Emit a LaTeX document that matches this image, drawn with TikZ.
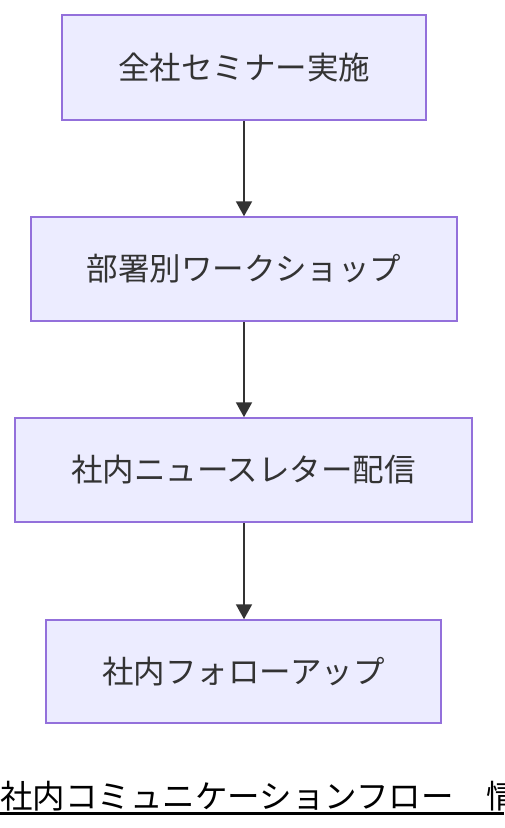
\documentclass[tikz,border=0pt]{standalone}
\usepackage{fontspec}
\setmainfont{Noto Sans CJK JP}
\usetikzlibrary{arrows.meta}
\definecolor{boxfill}{HTML}{ECECFF}
\definecolor{boxline}{HTML}{9370DB}
\definecolor{txt}{HTML}{333333}
\tikzset{
  stepbox/.style={draw=boxline, fill=boxfill, line width=1.5pt, inner sep=0pt, text=txt,
    font=\fontsize{31.5}{36}\selectfont},
  flow/.style={draw=txt, line width=2pt, -{Triangle[length=15pt,width=16pt]}}
}
\begin{document}
\begin{tikzpicture}[x=1pt,y=-1pt]
\useasboundingbox (0,0) rectangle (504,828);
\node[stepbox, minimum width=364pt, minimum height=105pt] (a) at (244,67.5) {全社セミナー実施};
\node[stepbox, minimum width=426pt, minimum height=104pt] (b) at (244,269) {部署別ワークショップ};
\node[stepbox, minimum width=457pt, minimum height=104pt] (c) at (243.5,470) {社内ニュースレター配信};
\node[stepbox, minimum width=395pt, minimum height=103pt] (d) at (243.5,671.5) {社内フォローアップ};
\draw[flow] (a.south -| 244,0) -- (b.north -| 244,0);
\draw[flow] (b.south -| 244,0) -- (c.north -| 244,0);
\draw[flow] (c.south -| 244,0) -- (d.north -| 244,0);
\node[anchor=base west, inner sep=0pt, font=\fontsize{32.5}{38}\selectfont, text=black] (t) at (0,808) {社内コミュニケーションフロー　情};
\draw[line width=2.5pt] ([yshift=-5.5pt]t.base west) -- ++(504,0);
\end{tikzpicture}
\end{document}
